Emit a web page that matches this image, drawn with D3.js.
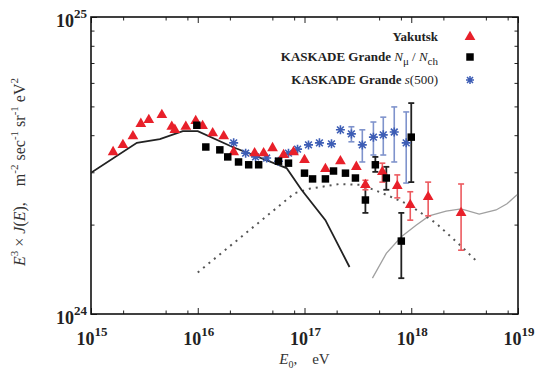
<!DOCTYPE html>
<html>
<head>
<meta charset="utf-8">
<script src="https://cdn.jsdelivr.net/npm/d3@7"></script>
<style>
  body { margin: 0; background: #fff; }
  svg { font-family: "Liberation Serif", "Times New Roman", serif; }
</style>
</head>
<body>
<script>
"use strict";

// Yakutsk: energy (eV), flux E^3 J(E), error bounds (null = no bar)
var yakE   = [1.61e15, 1.99e15, 2.47e15, 2.93e15, 3.48e15, 4.61e15, 5.71e15, 6.10e15, 7.73e15, 9.57e15,
              1.11e16, 1.38e16, 1.75e16, 2.17e16, 3.41e16, 4.14e16, 5.02e16, 6.37e16, 7.89e16, 1.0e17,
              1.57e17, 2.17e17, 3.06e17, 3.72e17, 5.36e17, 7.40e17, 9.79e17, 1.44e18, 2.93e18];
var yakF   = [3.51, 3.71, 3.97, 4.37, 4.50, 4.68, 4.27, 4.17, 4.27, 4.47,
              4.30, 4.06, 3.97, 3.51, 3.48, 3.48, 3.62, 3.43, 3.51, 3.30,
              3.08, 3.27, 3.13, 2.72, 3.01, 2.70, 2.33, 2.48, 2.19];
var yakLo  = [null, null, null, null, null, null, null, null, null, null,
              null, null, null, null, null, null, null, null, null, null,
              null, null, null, 2.62, 2.78, 2.46, 2.07, 2.14, 1.64];
var yakHi  = [null, null, null, null, null, null, null, null, null, null,
              null, null, null, null, null, null, null, null, null, null,
              null, null, null, 2.82, 3.22, 2.94, 2.58, 2.78, 2.74];

// KASKADE Grande N_mu / N_ch
var kgnE  = [9.8e15, 1.19e16, 1.61e16, 1.91e16, 2.41e16, 3.0e16, 3.72e16, 5.71e16, 7.08e16, 1.0e17,
             1.19e17, 1.57e17, 1.87e17, 2.42e17, 3.0e17, 3.72e17, 4.61e17, 5.84e17, 8.07e17, 1.0e18];
var kgnF  = [4.32, 3.65, 3.57, 3.38, 3.25, 3.18, 3.18, 3.27, 3.22, 2.98,
             2.85, 2.85, 3.03, 2.98, 2.87, 2.42, 3.18, 2.87, 1.76, 3.94];
var kgnLo = [null, null, null, null, null, null, null, null, null, null,
             null, null, null, null, null, 2.19, 3.01, 2.62, 1.32, 2.78];
var kgnHi = [null, null, null, null, null, null, null, null, null, null,
             null, null, null, null, null, 2.72, 3.38, 3.13, 2.19, 5.13];

// KASKADE Grande s(500)
var kgsE  = [2.17e16, 2.81e16, 3.48e16, 4.42e16, 5.71e16, 7.08e16, 8.61e16, 1.09e17, 1.38e17, 1.79e17,
             2.17e17, 2.75e17, 3.48e17, 4.42e17, 5.47e17, 6.93e17, 8.97e17];
var kgsF  = [3.77, 3.48, 3.38, 3.35, 3.27, 3.48, 3.59, 3.71, 3.77, 3.74,
             4.17, 4.04, 3.71, 3.94, 4.01, 4.10, 3.77];
var kgsLo = [null, null, null, null, null, null, null, null, null, null,
             null, 3.80, 3.25, 3.43, 3.43, 3.25, 2.76];
var kgsHi = [null, null, null, null, null, null, null, null, null, null,
             null, 4.27, 4.17, 4.43, 4.60, 4.98, 4.79];

// model curves
var solidE  = [1e15, 2.69e15, 4.42e15, 7.24e15, 1.0e16, 2.12e16, 6.79e16, 9.37e16, 1.57e17, 2.64e17];
var solidF  = [2.99, 3.77, 3.88, 4.13, 4.13, 3.65, 3.10, 2.62, 2.07, 1.44];
var dotE    = [1e16, 8.07e16, 1.11e17, 2.12e17, 3.41e17, 5.84e17, 9.57e17, 1.71e18, 3.0e18, 4.14e18];
var dotF    = [1.38, 2.55, 2.64, 2.74, 2.72, 2.52, 2.33, 2.02, 1.68, 1.50];
var grayE   = [4.33e17, 5.84e17, 8.07e17, 1.11e18, 1.47e18, 2.12e18, 2.93e18, 4.33e18, 6.23e18, 7.89e18, 9.8e18];
var grayF   = [1.32, 1.60, 1.82, 1.99, 2.14, 2.22, 2.26, 2.17, 2.24, 2.35, 2.52];

var fluxUnit = 1e24;
var xMajor = [1e15, 1e16, 1e17, 1e18, 1e19];
var xMinorMult = [2, 5, 8];
var yMajor = [1e24, 1e25];

var margin = {top: 17, right: 20, bottom: 58, left: 91},
    width = 538 - margin.left - margin.right,
    height = 372 - margin.top - margin.bottom;

var x = d3.scaleLog().domain([1e15, 1e19]).range([0, width]);
var y = d3.scaleLog().domain([1e24, 1e25]).range([height, 0]);

function zip(E, F, lo, hi) {
  return E.map(function(e, i) {
    return {e: e, f: F[i] * fluxUnit,
            lo: lo && lo[i] != null ? lo[i] * fluxUnit : null,
            hi: hi && hi[i] != null ? hi[i] * fluxUnit : null};
  });
}
var yak = zip(yakE, yakF, yakLo, yakHi);
var kgn = zip(kgnE, kgnF, kgnLo, kgnHi);
var kgs = zip(kgsE, kgsF, kgsLo, kgsHi);

var svg = d3.select("body").append("svg")
    .attr("width", 538)
    .attr("height", 372);
var g = svg.append("g")
    .attr("transform", "translate(" + margin.left + "," + margin.top + ")");

// ticks
var xMinor = [];
xMajor.slice(0, -1).forEach(function(d) { xMinorMult.forEach(function(m) { xMinor.push(d * m); }); });
var yMinor = [];
[2, 3, 4, 5, 6, 7, 8, 9].forEach(function(m) { yMinor.push(1e24 * m); });

function tickAxis(axisFn, scale, vals, size, transform) {
  var a = g.append("g").attr("transform", transform)
    .call(axisFn(scale).tickValues(vals).tickSize(-size).tickFormat(""));
  a.select(".domain").remove();
  a.selectAll("line").attr("stroke", "#222").attr("stroke-width", 1);
}
tickAxis(d3.axisBottom, x, xMajor, 6, "translate(0," + height + ")");
tickAxis(d3.axisBottom, x, xMinor, 3.5, "translate(0," + height + ")");
tickAxis(d3.axisTop, x, xMajor, 6, "translate(0,0)");
tickAxis(d3.axisTop, x, xMinor, 3.5, "translate(0,0)");
tickAxis(d3.axisLeft, y, yMajor, 6, "translate(0,0)");
tickAxis(d3.axisLeft, y, yMinor, 3.5, "translate(0,0)");
tickAxis(d3.axisRight, y, yMajor, 6, "translate(" + width + ",0)");
tickAxis(d3.axisRight, y, yMinor, 3.5, "translate(" + width + ",0)");

// frame
g.append("rect")
    .attr("width", width).attr("height", height)
    .attr("fill", "none").attr("stroke", "#111").attr("stroke-width", 1.6);

// tick labels with exponents
function powLabel(sel) {
  sel.append("tspan").text("10");
  sel.append("tspan").attr("dy", -9).attr("font-size", 13)
     .text(function(d) { return Math.round(Math.log10(d)); });
}
g.selectAll(".xlab").data(xMajor).enter().append("text")
    .attr("class", "xlab")
    .attr("x", function(d) { return x(d) + 1; })
    .attr("y", height + 31)
    .attr("text-anchor", "middle")
    .attr("font-size", 18).attr("font-weight", "bold").attr("fill", "#222")
    .call(powLabel);
g.selectAll(".ylab").data(yMajor).enter().append("text")
    .attr("class", "ylab")
    .attr("x", -4)
    .attr("y", function(d) { return y(d) + 10; })
    .attr("text-anchor", "end")
    .attr("font-size", 18).attr("font-weight", "bold").attr("fill", "#222")
    .call(powLabel);

// axis titles
var xt = svg.append("text")
    .attr("x", margin.left + x(1e17))
    .attr("y", 364)
    .attr("text-anchor", "middle")
    .attr("font-size", 15).attr("fill", "#333");
xt.append("tspan").attr("font-style", "italic").text("E");
xt.append("tspan").attr("font-size", 10).attr("dy", 4).text("0");
xt.append("tspan").attr("dy", -4).text(",\u2003eV");

var yt = svg.append("text")
    .attr("transform", "translate(25,172) rotate(-90)")
    .attr("text-anchor", "middle")
    .attr("font-size", 16).attr("fill", "#333");
function sup(t, s) { t.append("tspan").attr("dy", -7).attr("font-size", 11).text(s); }
function back(t, s) { t.append("tspan").attr("dy", 7).text(s); }
yt.append("tspan").attr("font-style", "italic").text("E");
sup(yt, "3");
back(yt, "\u00a0\u00d7\u00a0");
yt.append("tspan").attr("font-style", "italic").text("J");
yt.append("tspan").text("(");
yt.append("tspan").attr("font-style", "italic").text("E");
yt.append("tspan").text("),\u2003m");
sup(yt, "-2");
back(yt, "\u00a0sec");
sup(yt, "-1");
back(yt, "\u00a0sr");
sup(yt, "-1");
back(yt, "\u00a0eV");
sup(yt, "2");

// clip for curves
svg.append("defs").append("clipPath").attr("id", "clip")
  .append("rect").attr("width", width).attr("height", height);
var plot = g.append("g").attr("clip-path", "url(#clip)");

var line = d3.line()
    .x(function(d) { return x(d.e); })
    .y(function(d) { return y(d.f); });

plot.append("path").datum(zip(grayE, grayF))
    .attr("d", line).attr("fill", "none").attr("stroke", "#a0a0a0").attr("stroke-width", 1.3);
plot.append("path").datum(zip(dotE, dotF))
    .attr("d", line).attr("fill", "none").attr("stroke", "#555")
    .attr("stroke-width", 2).attr("stroke-dasharray", "2,5");
plot.append("path").datum(zip(solidE, solidF))
    .attr("d", line).attr("fill", "none").attr("stroke", "#222").attr("stroke-width", 1.8);

// error bars
function errBars(data, color, w) {
  var eb = plot.append("g").selectAll("g").data(data.filter(function(d) { return d.lo != null; }))
    .enter().append("g").attr("stroke", color).attr("stroke-width", w);
  eb.append("line")
    .attr("x1", function(d) { return x(d.e); }).attr("x2", function(d) { return x(d.e); })
    .attr("y1", function(d) { return y(d.lo); }).attr("y2", function(d) { return y(d.hi); });
  eb.append("line")
    .attr("x1", function(d) { return x(d.e) - 3; }).attr("x2", function(d) { return x(d.e) + 3; })
    .attr("y1", function(d) { return y(d.lo); }).attr("y2", function(d) { return y(d.lo); });
  eb.append("line")
    .attr("x1", function(d) { return x(d.e) - 3; }).attr("x2", function(d) { return x(d.e) + 3; })
    .attr("y1", function(d) { return y(d.hi); }).attr("y2", function(d) { return y(d.hi); });
}
errBars(kgs, "#7f93cc", 1.6);
errBars(kgn, "#222", 1.8);
errBars(yak, "#ec5a5f", 1.6);

// markers
var triangle = d3.symbol().type(d3.symbolTriangle).size(50);
var square = d3.symbol().type(d3.symbolSquare).size(56);
function star(r) {
  var a = r * 0.75;
  return "M" + (-r) + ",0L" + r + ",0M0," + (-r) + "L0," + r +
         "M" + (-a) + "," + (-a) + "L" + a + "," + a + "M" + (-a) + "," + a + "L" + a + "," + (-a);
}

g.append("g").selectAll("path").data(kgs).enter().append("path")
    .attr("transform", function(d) { return "translate(" + x(d.e) + "," + y(d.f) + ")"; })
    .attr("d", star(4.5)).attr("fill", "none").attr("stroke", "#3d5db5").attr("stroke-width", 1.6);
g.append("g").selectAll("path").data(yak).enter().append("path")
    .attr("transform", function(d) { return "translate(" + x(d.e) + "," + y(d.f) + ")"; })
    .attr("d", triangle).attr("fill", "#e8202a");
g.append("g").selectAll("path").data(kgn).enter().append("path")
    .attr("transform", function(d) { return "translate(" + x(d.e) + "," + y(d.f) + ")"; })
    .attr("d", square).attr("fill", "#000");

// legend
var lg = svg.append("g").attr("font-size", 13).attr("fill", "#222");
var l1 = lg.append("text").attr("x", 438).attr("y", 41).attr("text-anchor", "end").attr("font-weight", "bold");
l1.text("Yakutsk");
var l2 = lg.append("text").attr("x", 438).attr("y", 61).attr("text-anchor", "end");
l2.append("tspan").attr("font-weight", "bold").text("KASKADE Grande ");
l2.append("tspan").attr("font-style", "italic").text("N");
l2.append("tspan").attr("font-size", 11).attr("dy", 4).text("\u03bc");
l2.append("tspan").attr("dy", -4).text(" / ");
l2.append("tspan").attr("font-style", "italic").text("N");
l2.append("tspan").attr("font-size", 11).attr("dy", 4).text("ch");
var l3 = lg.append("text").attr("x", 438).attr("y", 84).attr("text-anchor", "end");
l3.append("tspan").attr("font-weight", "bold").text("KASKADE Grande ");
l3.append("tspan").attr("font-style", "italic").text("s");
l3.append("tspan").text("(500)");

lg.append("path").attr("transform", "translate(470,37)").attr("d", triangle).attr("fill", "#e8202a");
lg.append("path").attr("transform", "translate(470,57)").attr("d", square).attr("fill", "#000");
lg.append("path").attr("transform", "translate(470,80)").attr("d", star(4))
    .attr("fill", "none").attr("stroke", "#3d5db5").attr("stroke-width", 1.5);
</script>
</body>
</html>
